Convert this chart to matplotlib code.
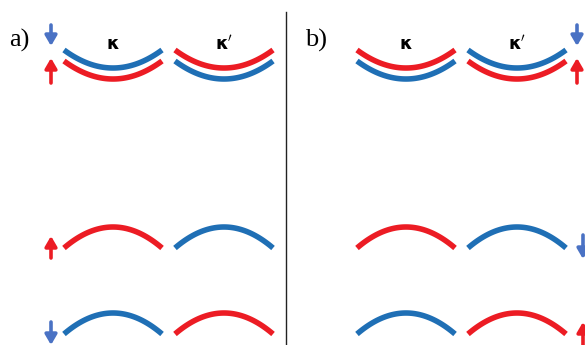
import numpy as np
import matplotlib.pyplot as plt

# --- schematic data (pixel frame of the 585x345 picture) ---
panel_labels = ["a)", "b)"]
label_x = [9, 305]
label_y = 40

valley_labels = [r"$\mathbf{\kappa}$", r"$\mathbf{\kappa'}$"]

# band centres (x) for K and K' in each panel
band_x = [[113, 224], [406, 517]]
band_half = 49

# top (conduction-like) bands: end level, sag, colour order (upper, lower)
top_end_y = 50
top_gap = 11
top_sag = 18
top_colors = [
    [("blue", "red"), ("red", "blue")],   # panel a: K, K'
    [("red", "blue"), ("blue", "red")],   # panel b: K, K'
]

# lower bands: end level, bulge
low_end_y = [248, 334]
low_bulge = 21
low_colors = [
    [("red", "blue"), ("blue", "red")],   # panel a rows
    [("red", "blue"), ("blue", "red")],   # panel b rows
]

# spin arrows: (x, y_tail, y_head, colour)
spin_arrows = [
    (51, 25, 46, "blue"), (51, 83, 58, "red"),
    (51, 258, 236, "red"), (51, 322, 345, "blue"),
    (577, 25, 46, "blue"), (577, 83, 58, "red"),
    (583, 235, 259, "blue"), (583, 345, 322, "red"),
]

RED = "#ec1c24"
BLUE = "#1f6fb5"
ARROW_BLUE = "#4a72c4"
col = {"red": RED, "blue": BLUE}


def arc(ax, xc, y_end, depth, color):
    t = np.linspace(-1, 1, 80)
    x = xc + band_half * t
    y = y_end + depth * (1 - t ** 2)
    ax.plot(x, y, color=color, lw=4.0, solid_capstyle="butt")


fig = plt.figure(figsize=(5.85, 3.45), dpi=100)
ax = fig.add_axes([0, 0, 1, 1])
ax.set_xlim(0, 585)
ax.set_ylim(345, 0)
ax.axis("off")

# divider
ax.plot([286, 286], [12, 345], color="#222222", lw=1.0)

for p in range(2):
    ax.text(label_x[p], label_y, panel_labels[p], fontsize=19,
            family="Liberation Serif", va="center", ha="left")
    for v in range(2):
        xc = band_x[p][v]
        ax.text(xc, 44, valley_labels[v], fontsize=13, ha="center",
                va="center", family="DejaVu Sans")
        upper, lower = top_colors[p][v]
        arc(ax, xc, top_end_y, top_sag, col[upper])
        arc(ax, xc, top_end_y + top_gap, top_sag, col[lower])
        for r in range(2):
            arc(ax, xc, low_end_y[r], -low_bulge, col[low_colors[p][r][v]])

for x, y0, y1, c in spin_arrows:
    ax.annotate("", xy=(x, y1), xytext=(x, y0),
                arrowprops=dict(arrowstyle="-|>,head_length=0.6,head_width=0.35",
                                lw=2.6, color=RED if c == "red" else ARROW_BLUE,
                                shrinkA=0, shrinkB=0))

fig.savefig("out.png", dpi=100)
